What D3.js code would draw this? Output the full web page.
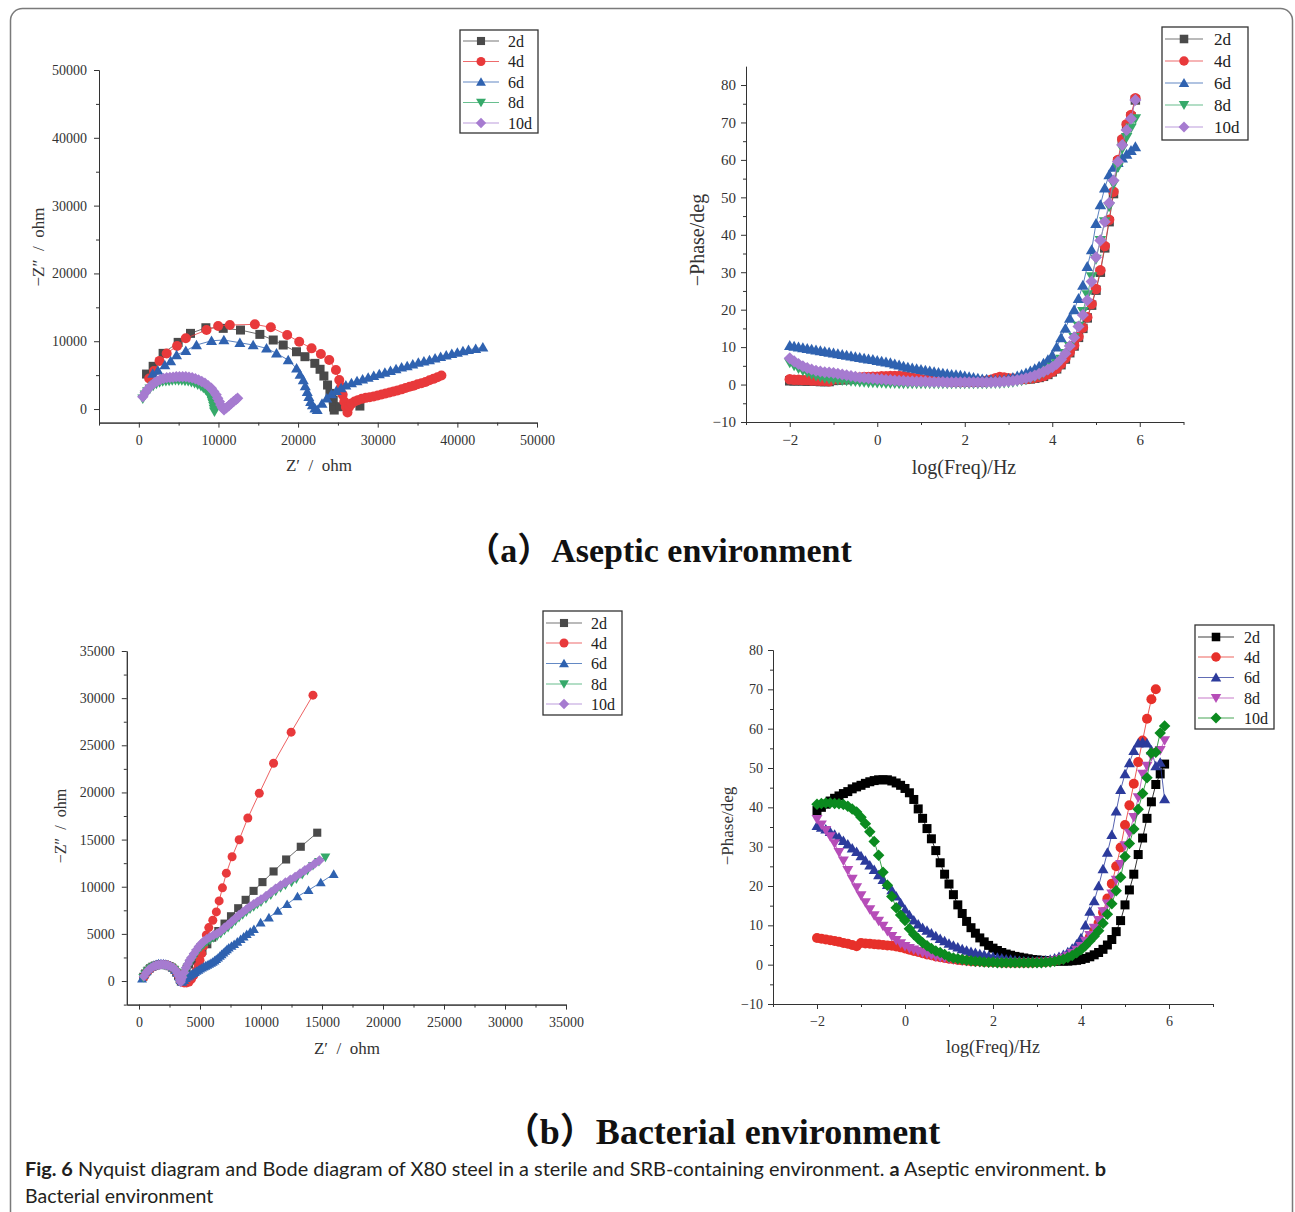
<!DOCTYPE html>
<html>
<head>
<meta charset="utf-8">
<script src="https://cdn.jsdelivr.net/npm/d3@7"></script>
<style>
  body { margin: 0; background: #fff; }
  svg { display: block; }
  .serif { font-family: "Liberation Serif", "DejaVu Serif", "Noto Sans CJK SC", serif; }
</style>
</head>
<body>
<svg id="fig" width="1295" height="1212"></svg>
<script>
// ---------- series definitions ----------
const seriesNames  = ["2d", "4d", "6d", "8d", "10d"];
const seriesShapes = ["square", "circle", "triangle", "triangleDown", "diamond"];
const aseptColors  = ["#4a4a4a", "#e8393b", "#2f62b0", "#36a96a", "#a67bd0"];
const bactColors   = ["#000000", "#e7302a", "#2c3b9c", "#b64db8", "#0b8a1f"];

// ---------- tick labels ----------
const nyqAseptTicks = [0, 10000, 20000, 30000, 40000, 50000];
const nyqBactTicks  = [0, 5000, 10000, 15000, 20000, 25000, 30000, 35000];
const bodeXTicks    = [-2, 0, 2, 4, 6];
const bodeYTicks    = [-10, 0, 10, 20, 30, 40, 50, 60, 70, 80];

// ---------- Nyquist, aseptic: [Z', -Z''] in ohm ----------
const aseptNyq2d = [[970,5160],[1800,6300],[3050,8210],[4940,9830],[6490,11160],[8420,11990],[10600,11900],[12770,11650],[15200,11010],[16880,10180],[18130,9440],[19800,8450],[20860,7720],[22100,6740],[22760,5860],[23240,4870],[23700,3540],[24000,2310],[24200,1800],[24410,1330],[24450,300],[24540,-150],[25250,340],[26090,590],[27760,440]];
const aseptNyq4d = [[1300,4500],[1900,5600],[2600,7100],[3500,8200],[4800,9300],[5900,10430],[8500,11650],[9960,12240],[11430,12390],[14570,12490],[16580,12050],[18630,10910],[20140,9930],[21690,8950],[22860,8110],[23910,7230],[24750,5750],[25170,4280],[25400,3300],[25600,2100],[25800,1100],[26000,300],[26200,-500],[26400,300],[26700,800],[27100,1100],[27500,1300],[28000,1500],[28500,1650],[29000,1750],[29500,1850],[30000,2000],[30500,2150],[31000,2300],[31500,2450],[32000,2600],[32500,2750],[33000,2900],[33500,3100],[34000,3300],[34500,3450],[35000,3650],[35500,3800],[36000,4000],[36500,4250],[37000,4450],[37500,4700],[38000,4950]];
const aseptNyq6d = [[1750,5250],[2400,5700],[3270,6490],[4000,7100],[4740,7960],[5900,8600],[7240,9440],[9130,10070],[10680,10180],[12690,9780],[14360,9440],[16040,8950],[17290,8210],[18760,7230],[19810,6000],[20250,5100],[20650,4280],[20900,3400],[21150,2550],[21350,1800],[21570,1080],[21800,600],[22110,100],[22400,-100],[23000,800],[23600,1600],[24200,2200],[24800,2700],[25400,3100],[26000,3500],[26700,3850],[27400,4150],[28100,4400],[28800,4650],[29500,4900],[30200,5150],[30900,5400],[31600,5650],[32300,5900],[33000,6150],[33700,6350],[34400,6600],[35100,6850],[35800,7050],[36500,7250],[37200,7500],[37900,7700],[38600,7950],[39300,8150],[40000,8350],[40700,8550],[41400,8750],[42300,8900],[43200,9100]];
const aseptNyq8d = [[500,1500],[800,2100],[1100,2600],[1400,3000],[1800,3400],[2200,3700],[2600,3900],[3000,4050],[3400,4100],[3800,4150],[4200,4200],[4600,4250],[5000,4200],[5400,4200],[5800,4150],[6200,4100],[6600,3950],[7000,3800],[7400,3600],[7800,3350],[8100,3100],[8400,2800],[8700,2400],[8900,2000],[9100,1600],[9200,1200],[9300,800],[9400,400],[9450,0],[9500,-400]];
const aseptNyq10d = [[500,1800],[800,2400],[1100,2900],[1500,3400],[1900,3800],[2300,4100],[2700,4350],[3100,4500],[3500,4600],[3900,4650],[4300,4700],[4700,4750],[5100,4750],[5500,4750],[5900,4750],[6300,4700],[6700,4600],[7100,4450],[7500,4300],[7900,4050],[8300,3800],[8700,3450],[9100,3050],[9400,2600],[9700,2100],[9900,1600],[10100,1100],[10300,600],[10500,200],[10700,-100],[11000,200],[11300,500],[11600,800],[11900,1100],[12200,1400],[12400,1600]];

// ---------- Bode phase: measurement frequencies, log10(f / Hz) ----------
const logFreq = [
  -2.0,-1.9,-1.8,-1.7,-1.6,-1.5,-1.4,-1.3,-1.2,-1.1,
  -1.0,-0.9,-0.8,-0.7,-0.6,-0.5,-0.4,-0.3,-0.2,-0.1,
   0.0, 0.1, 0.2, 0.3, 0.4, 0.5, 0.6, 0.7, 0.8, 0.9,
   1.0, 1.1, 1.2, 1.3, 1.4, 1.5, 1.6, 1.7, 1.8, 1.9,
   2.0, 2.1, 2.2, 2.3, 2.4, 2.5, 2.6, 2.7, 2.8, 2.9,
   3.0, 3.1, 3.2, 3.3, 3.4, 3.5, 3.6, 3.7, 3.8, 3.9,
   4.0, 4.1, 4.2, 4.3, 4.4, 4.5, 4.6, 4.7, 4.8, 4.9,
   5.0, 5.1, 5.2, 5.3, 5.4, 5.5, 5.6, 5.7, 5.8, 5.9];

// −Phase (deg), aseptic
const aseptPhase2d = [
  1.0,1.0,1.0,1.0,0.9,0.9,0.9,0.8,0.8,0.8,
  1.1,1.2,1.3,1.3,1.4,1.4,1.5,1.5,1.6,1.6,
  1.6,1.7,1.7,1.8,1.8,1.8,1.7,1.6,1.5,1.4,
  1.3,1.2,1.1,1.0,0.9,0.9,0.8,0.8,0.7,0.7,
  0.7,0.7,0.7,0.7,0.7,0.8,0.9,1.1,1.3,1.4,
  1.5,1.5,1.4,1.4,1.4,1.5,1.7,1.9,2.2,2.7,
  3.4,4.2,5.3,6.8,8.5,10.3,12.6,15.0,17.8,21.2,
  25.2,30.0,36.5,43.5,51.0,59.5,65.0,69.0,71.5,76.0];
const aseptPhase4d = [
  1.4,1.3,1.3,1.2,1.2,1.1,1.1,1.0,1.0,0.9,
  1.4,1.5,1.6,1.7,1.8,1.8,1.9,2.0,2.0,2.1,
  2.1,2.2,2.2,2.3,2.3,2.3,2.2,2.0,1.8,1.6,
  1.4,1.3,1.2,1.1,1.0,1.0,0.9,0.9,0.8,0.8,
  0.8,0.8,0.8,0.8,0.9,1.0,1.3,1.7,2.0,1.9,
  1.7,1.6,1.5,1.5,1.5,1.6,1.8,2.0,2.3,2.8,
  3.5,4.3,5.5,7.0,8.7,10.5,12.8,15.2,18.0,21.5,
  25.5,30.5,37.0,44.0,51.5,60.0,65.5,69.5,72.0,76.5];
const aseptPhase6d = [
  10.4,10.2,10.0,9.8,9.6,9.4,9.2,9.0,8.8,8.6,
  8.4,8.2,8.0,7.8,7.6,7.4,7.2,7.0,6.8,6.7,
  6.4,6.2,6.0,5.8,5.5,5.2,4.9,4.6,4.4,4.2,
  4.0,3.8,3.6,3.4,3.2,3.0,2.9,2.7,2.6,2.5,
  2.3,2.1,1.9,1.7,1.5,1.4,1.3,1.2,1.2,1.3,
  1.6,1.9,2.3,2.7,3.1,3.6,4.2,4.9,5.7,6.6,
  7.8,10.0,12.5,15.0,17.7,20.0,23.0,26.5,31.5,36.0,
  43.0,48.0,52.5,56.0,58.0,59.3,60.5,61.5,62.5,63.5];
const aseptPhase8d = [
  5.8,5.0,4.3,3.7,3.2,2.7,2.3,2.0,1.7,1.5,
  1.3,1.2,1.1,1.0,0.9,0.8,0.7,0.6,0.5,0.5,
  0.4,0.4,0.3,0.3,0.3,0.2,0.2,0.2,0.2,0.2,
  0.2,0.2,0.2,0.2,0.2,0.2,0.2,0.2,0.2,0.2,
  0.2,0.2,0.2,0.2,0.2,0.2,0.3,0.3,0.3,0.4,
  0.5,0.6,0.8,1.0,1.3,1.6,2.0,2.5,3.1,3.8,
  4.6,5.6,6.8,8.3,10.2,12.6,15.6,19.5,24.0,28.8,
  33.5,38.5,43.5,47.5,53.5,58.0,63.0,66.0,68.5,71.0];
const aseptPhase10d = [
  7.0,6.2,5.5,4.9,4.4,4.0,3.7,3.5,3.3,3.2,
  3.1,2.9,2.7,2.5,2.3,2.1,1.9,1.8,1.7,1.6,
  1.5,1.4,1.3,1.2,1.1,1.0,1.0,0.9,0.9,0.8,
  0.8,0.8,0.7,0.7,0.7,0.7,0.6,0.6,0.6,0.6,
  0.6,0.6,0.6,0.6,0.6,0.6,0.6,0.7,0.7,0.8,
  0.9,1.0,1.2,1.4,1.7,2.0,2.4,2.9,3.4,4.0,
  4.6,5.5,6.7,8.3,10.3,12.6,15.5,18.6,22.5,27.5,
  34.0,38.5,43.5,48.5,54.5,59.5,64.0,68.0,71.0,76.0];

// ---------- Nyquist, bacterial: [Z', -Z''] in ohm ----------
const bactNyq2d = [[350,450],[500,800],[700,1100],[900,1350],[1100,1520],[1300,1640],[1500,1710],[1700,1750],[1900,1760],[2100,1740],[2300,1680],[2500,1580],[2700,1430],[2900,1200],[3050,900],[3200,550],[3330,200],[3430,-50],[3550,350],[3700,800],[3900,1300],[4100,1750],[4350,2150],[4600,2550],[4900,2900],[5200,3200],[5600,3900],[6000,4600],[6500,5300],[7010,6090],[7540,6870],[8130,7720],[8740,8610],[9390,9560],[10120,10490],[11030,11620],[12060,12890],[13260,14240],[14610,15730]];
const bactNyq4d = [[400,400],[550,750],[750,1080],[950,1330],[1150,1500],[1350,1620],[1550,1700],[1750,1740],[1950,1750],[2150,1720],[2350,1660],[2550,1560],[2750,1410],[2950,1180],[3100,880],[3250,540],[3380,200],[3500,-100],[3700,-200],[3900,-200],[4100,-100],[4300,200],[4500,600],[4700,1100],[4850,1600],[5000,2200],[5150,2900],[5300,3700],[5520,4890],[5720,5670],[6050,6450],[6340,7330],[6570,8500],[6840,9880],[7160,11440],[7630,13180],[8210,14980],[8920,17290],[9860,19910],[11030,23100],[12470,26390],[14260,30320]];
const bactNyq6d = [[250,250],[400,650],[600,1000],[800,1300],[1000,1520],[1200,1680],[1400,1790],[1600,1850],[1800,1870],[2000,1860],[2200,1820],[2400,1730],[2600,1600],[2800,1420],[3000,1150],[3150,850],[3300,450],[3420,100],[3550,-100],[3700,100],[3840,300],[4000,450],[4140,580],[4280,710],[4430,830],[4580,950],[4720,1060],[4870,1180],[5010,1300],[5160,1420],[5300,1520],[5450,1610],[5600,1700],[5750,1810],[5900,1910],[6040,2020],[6190,2170],[6330,2320],[6480,2480],[6630,2660],[6770,2830],[6920,3010],[7070,3190],[7210,3360],[7360,3540],[7580,3720],[7800,3900],[8060,4160],[8330,4430],[8580,4700],[8830,4960],[9120,5220],[9420,5490],[9970,6200],[10650,6730],[11380,7440],[12140,8150],[12990,8960],[13900,9640],[14900,10450],[15960,11340]];
const bactNyq8d = [[350,350],[500,700],[700,1020],[900,1280],[1100,1450],[1300,1570],[1500,1640],[1700,1680],[1900,1690],[2100,1670],[2300,1610],[2500,1520],[2700,1380],[2900,1170],[3050,900],[3200,580],[3330,250],[3430,0],[3550,200],[3700,600],[3850,1050],[4000,1450],[4150,1800],[4300,2150],[4500,2550],[4700,2950],[4900,3300],[5100,3600],[5300,3850],[5550,4100],[5800,4300],[6100,4550],[6400,4750],[6700,5000],[7000,5350],[7300,5650],[7600,6000],[7900,6350],[8200,6700],[8500,7000],[8800,7300],[9100,7600],[9400,7850],[9700,8100],[10000,8350],[10400,8700],[10800,9100],[11200,9500],[11600,9850],[12000,10150],[12500,10450],[12900,10800],[13380,11260],[13800,11700],[14260,12220],[14750,12650],[15280,13110]];
const bactNyq10d = [[400,500],[600,900],[800,1200],[1000,1400],[1200,1550],[1400,1650],[1600,1700],[1800,1750],[2000,1750],[2200,1700],[2400,1650],[2600,1550],[2800,1400],[3000,1150],[3150,850],[3250,550],[3350,200],[3420,-100],[3450,100],[3550,400],[3700,900],[3850,1400],[4000,1800],[4150,2200],[4300,2500],[4500,2900],[4700,3300],[4900,3650],[5100,3950],[5300,4200],[5550,4450],[5800,4650],[6100,4850],[6400,5050],[6700,5300],[7000,5650],[7300,5950],[7600,6300],[7900,6650],[8200,7000],[8500,7300],[8800,7600],[9100,7900],[9400,8150],[9700,8400],[10000,8650],[10400,9000],[10800,9400],[11200,9800],[11600,10150],[12000,10450],[12400,10750],[12800,11050],[13200,11400],[13600,11750],[14000,12100],[14400,12450],[14800,12800]];

// −Phase (deg), bacterial
const bactPhase2d = [
  39.2,40.0,40.8,41.6,42.3,42.9,43.5,44.0,44.7,45.2,
  45.6,46.1,46.5,46.8,47.0,47.0,47.0,46.7,46.2,45.6,
  44.8,43.7,42.0,39.6,37.2,34.6,32.0,29.0,25.9,23.0,
  20.5,17.8,15.2,13.0,11.0,9.4,8.0,6.8,5.8,4.9,
  4.2,3.6,3.1,2.7,2.4,2.1,1.9,1.7,1.5,1.3,
  1.2,1.1,1.0,1.0,0.9,0.9,0.9,0.9,1.0,1.1,
  1.3,1.6,2.0,2.5,3.1,3.9,5.0,6.4,8.4,11.2,
  15.2,19.0,23.0,28.0,32.2,37.2,41.4,45.8,48.5,51.0];
const bactPhase4d = [
  6.8,6.6,6.4,6.2,6.0,5.8,5.5,5.3,5.0,4.7,
  5.5,5.4,5.3,5.2,5.1,5.0,4.9,4.8,4.6,4.4,
  4.1,3.8,3.5,3.2,2.9,2.6,2.4,2.1,1.9,1.7,
  1.5,1.4,1.2,1.1,1.0,0.9,0.8,0.8,0.7,0.7,
  0.6,0.6,0.5,0.5,0.5,0.5,0.5,0.5,0.5,0.5,
  0.6,0.6,0.7,0.8,1.0,1.3,1.7,2.2,2.8,3.5,
  4.4,5.6,7.0,8.6,10.6,13.3,16.8,20.6,25.0,29.8,
  35.5,40.5,46.0,51.5,57.0,62.5,67.5,70.0,null,null];
const bactPhase6d = [
  35.3,34.9,34.4,33.8,33.1,32.4,31.5,30.6,29.6,28.7,
  27.6,26.5,25.3,24.1,22.8,21.6,20.3,19.0,17.4,15.7,
  14.0,12.6,11.3,10.3,9.4,8.7,8.0,7.3,6.6,6.0,
  5.4,4.9,4.4,4.0,3.6,3.3,3.0,2.7,2.5,2.2,
  2.0,1.8,1.6,1.4,1.3,1.1,1.0,0.9,0.9,0.9,
  0.9,1.0,1.1,1.3,1.6,2.0,2.5,3.2,4.1,5.2,
  6.8,10.0,13.5,16.2,20.0,24.3,28.5,33.0,39.0,44.5,
  48.5,51.3,54.4,56.3,56.6,56.3,54.5,50.5,51.4,42.1];
const bactPhase8d = [
  37.0,35.6,34.2,32.6,30.8,28.6,26.4,24.0,21.8,19.6,
  17.6,15.8,14.0,12.5,11.1,9.8,8.5,7.2,6.2,5.4,
  4.7,4.2,3.8,3.4,3.0,2.7,2.4,2.1,1.9,1.7,
  1.5,1.3,1.2,1.0,0.9,0.8,0.7,0.6,0.6,0.5,
  0.5,0.5,0.4,0.4,0.4,0.4,0.4,0.4,0.4,0.4,
  0.5,0.5,0.6,0.8,1.0,1.3,1.7,2.2,2.9,3.7,
  4.7,6.0,7.5,9.3,11.3,13.5,15.5,18.0,21.5,25.5,
  30.3,33.5,37.5,42.5,48.5,50.5,53.0,54.0,54.5,57.0];
const bactPhase10d = [
  40.8,41.0,41.1,41.1,41.0,40.9,40.7,40.3,39.6,38.8,
  37.5,35.8,33.8,31.3,27.8,23.5,20.2,17.3,14.5,12.6,
  11.2,9.1,7.7,6.6,5.6,4.8,4.1,3.5,3.1,2.6,
  2.0,1.7,1.5,1.3,1.1,1.0,0.9,0.8,0.7,0.6,
  0.6,0.5,0.5,0.5,0.5,0.5,0.5,0.5,0.5,0.5,
  0.5,0.5,0.6,0.7,0.9,1.1,1.4,1.8,2.3,3.0,
  3.8,4.8,6.0,7.2,8.6,10.5,12.8,15.5,18.8,22.2,
  27.5,30.8,34.5,39.5,43.5,47.5,53.8,54.0,58.9,60.7];

// ---------- drawing helpers ----------
const svg = d3.select("#fig");
svg.append("rect").attr("width", 1295).attr("height", 1212).attr("fill", "#fff");
svg.append("rect")
  .attr("x", 10.5).attr("y", 8.5).attr("width", 1282).attr("height", 1240).attr("rx", 12)
  .attr("fill", "none").attr("stroke", "#7a7a7a").attr("stroke-width", 1.5);

function markerPath(shape, s) {
  const h = s / 2;
  switch (shape) {
    case "square":       return `M${-h*0.9},${-h*0.9}H${h*0.9}V${h*0.9}H${-h*0.9}Z`;
    case "circle":       return `M${h},0A${h},${h} 0 1,1 ${-h},0A${h},${h} 0 1,1 ${h},0Z`;
    case "triangle":     return `M0,${-h*1.05}L${h*1.1},${h*0.85}L${-h*1.1},${h*0.85}Z`;
    case "triangleDown": return `M0,${h*1.05}L${h*1.1},${-h*0.85}L${-h*1.1},${-h*0.85}Z`;
    case "diamond":      return `M0,${-h*1.15}L${h*1.15},0L0,${h*1.15}L${-h*1.15},0Z`;
  }
}

const bodeFmt = d => d < 0 ? "\u2212" + Math.abs(d) : String(d);
const nyqFmt = d3.format("d");

function drawPanel(cfg) {
  const g = svg.append("g");
  const x = d3.scaleLinear().domain(cfg.xDomain).range(cfg.xRange);
  const y = d3.scaleLinear().domain(cfg.yDomain).range(cfg.yRange);
  const axisY = cfg.yRange[0], axisX = cfg.xRange[0];

  const styleAxis = sel => {
    sel.selectAll("path, line").attr("stroke", "#333").attr("stroke-width", 1);
    sel.selectAll("text").attr("class", "serif").attr("fill", "#333")
      .attr("font-size", cfg.tickFont);
  };

  g.append("g").attr("transform", `translate(0,${axisY})`)
    .call(d3.axisBottom(x).tickValues(cfg.xMinor).tickSize(3).tickSizeOuter(0).tickFormat(""))
    .call(styleAxis);
  g.append("g").attr("transform", `translate(0,${axisY})`)
    .call(d3.axisBottom(x).tickValues(cfg.xTicks).tickSize(5).tickSizeOuter(0)
      .tickPadding(cfg.xPad).tickFormat(cfg.fmt))
    .call(styleAxis);
  g.append("g").attr("transform", `translate(${axisX},0)`)
    .call(d3.axisLeft(y).tickValues(cfg.yMinor).tickSize(3).tickSizeOuter(0).tickFormat(""))
    .call(styleAxis);
  g.append("g").attr("transform", `translate(${axisX},0)`)
    .call(d3.axisLeft(y).tickValues(cfg.yTicks).tickSize(5).tickSizeOuter(0)
      .tickPadding(cfg.yPad).tickFormat(cfg.fmt))
    .call(styleAxis);

  // axis titles
  g.append("text").attr("class", "serif")
    .attr("x", cfg.xTitle.x).attr("y", cfg.xTitle.y)
    .attr("text-anchor", "middle").attr("font-size", cfg.xTitle.size).attr("fill", "#333")
    .attr("xml:space", "preserve")
    .text(cfg.xTitle.text);
  g.append("text").attr("class", "serif")
    .attr("transform", `translate(${cfg.yTitle.x},${cfg.yTitle.y}) rotate(-90)`)
    .attr("text-anchor", "middle").attr("dominant-baseline", "central")
    .attr("font-size", cfg.yTitle.size).attr("fill", "#333")
    .attr("xml:space", "preserve")
    .text(cfg.yTitle.text);

  // series: thin connecting line + markers
  const line = d3.line().defined(d => d[1] != null).x(d => x(d[0])).y(d => y(d[1]));
  cfg.series.forEach((pts, i) => {
    const col = cfg.colors[i];
    g.append("path").datum(pts).attr("d", line)
      .attr("fill", "none").attr("stroke", col).attr("stroke-width", 1).attr("stroke-opacity", 0.8);
    g.append("g").selectAll("path").data(pts.filter(d => d[1] != null)).join("path")
      .attr("transform", d => `translate(${x(d[0])},${y(d[1])})`)
      .attr("d", markerPath(seriesShapes[i], cfg.markSize))
      .attr("fill", col);
  });

  // legend
  const L = cfg.legend;
  const lg = g.append("g");
  lg.append("rect").attr("x", L.x).attr("y", L.y).attr("width", L.w).attr("height", L.h)
    .attr("fill", "#fff").attr("stroke", "#333").attr("stroke-width", 1.3);
  seriesNames.forEach((name, i) => {
    const ry = L.rows[i], col = cfg.colors[i];
    lg.append("line").attr("x1", L.lx0).attr("x2", L.lx1).attr("y1", ry).attr("y2", ry)
      .attr("stroke", col).attr("stroke-width", 1.2).attr("stroke-opacity", 0.75);
    lg.append("path").attr("transform", `translate(${(L.lx0 + L.lx1) / 2},${ry})`)
      .attr("d", markerPath(seriesShapes[i], L.mark)).attr("fill", col);
    lg.append("text").attr("class", "serif").attr("x", L.tx).attr("y", ry)
      .attr("dominant-baseline", "central").attr("font-size", L.font).attr("fill", "#222")
      .text(name);
  });
}

const stepTicks = (a, b, s) => d3.range(a, b + s / 2, s);

// (a) aseptic — Nyquist
drawPanel({
  xDomain: [-5000, 50000], xRange: [99, 537],
  yDomain: [-2000, 50000], yRange: [422.6, 70],
  xTicks: nyqAseptTicks, yTicks: nyqAseptTicks,
  xMinor: stepTicks(-5000, 45000, 10000), yMinor: stepTicks(5000, 45000, 10000),
  fmt: nyqFmt, tickFont: 14, xPad: 7, yPad: 7,
  xTitle: { text: "Z\u2032  /  ohm", x: 319, y: 471, size: 17 },
  yTitle: { text: "\u2212Z\u2033  /  ohm", x: 38, y: 247, size: 17 },
  series: [aseptNyq2d, aseptNyq4d, aseptNyq6d, aseptNyq8d, aseptNyq10d],
  colors: aseptColors, markSize: 10,
  legend: { x: 460, y: 30, w: 78, h: 103, rows: [41, 61.5, 82, 102.5, 123],
            lx0: 463, lx1: 499, tx: 508, font: 16, mark: 9 }
});

// (a) aseptic — Bode phase
drawPanel({
  xDomain: [-3, 7], xRange: [746, 1183.5],
  yDomain: [-10, 85], yRange: [422, 66.3],
  xTicks: bodeXTicks, yTicks: bodeYTicks,
  xMinor: [-3, -1, 1, 3, 5, 7], yMinor: stepTicks(-5, 75, 10),
  fmt: bodeFmt, tickFont: 15, xPad: 7, yPad: 5,
  xTitle: { text: "log(Freq)/Hz", x: 964, y: 474, size: 20 },
  yTitle: { text: "\u2212Phase/deg", x: 697, y: 240, size: 20 },
  series: [aseptPhase2d, aseptPhase4d, aseptPhase6d, aseptPhase8d, aseptPhase10d]
    .map(v => logFreq.map((f, i) => [f, v[i]])),
  colors: aseptColors, markSize: 10.5,
  legend: { x: 1162, y: 27, w: 86, h: 113, rows: [39, 61, 83, 105, 127],
            lx0: 1165, lx1: 1203, tx: 1214, font: 17, mark: 9.5 }
});

// (b) bacterial — Nyquist
drawPanel({
  xDomain: [-1000, 35000], xRange: [126.8, 566],
  yDomain: [-2500, 35000], yRange: [1004.6, 651],
  xTicks: nyqBactTicks, yTicks: nyqBactTicks,
  xMinor: stepTicks(2500, 32500, 5000), yMinor: stepTicks(-2500, 32500, 5000),
  fmt: nyqFmt, tickFont: 14, xPad: 7, yPad: 7,
  xTitle: { text: "Z\u2032  /  ohm", x: 347, y: 1054, size: 17 },
  yTitle: { text: "\u2212Z\u2033  /  ohm", x: 60, y: 826, size: 16 },
  series: [bactNyq2d, bactNyq4d, bactNyq6d, bactNyq8d, bactNyq10d],
  colors: aseptColors, markSize: 9,
  legend: { x: 543, y: 611, w: 79, h: 104, rows: [623, 643, 663.5, 684, 704],
            lx0: 546, lx1: 582, tx: 591, font: 16, mark: 9 }
});

// (b) bacterial — Bode phase
drawPanel({
  xDomain: [-3, 7], xRange: [773, 1213],
  yDomain: [-10, 80], yRange: [1004, 650],
  xTicks: bodeXTicks, yTicks: bodeYTicks,
  xMinor: [-3, -1, 1, 3, 5, 7], yMinor: stepTicks(-5, 75, 10),
  fmt: bodeFmt, tickFont: 14, xPad: 7, yPad: 5,
  xTitle: { text: "log(Freq)/Hz", x: 993, y: 1053, size: 18 },
  yTitle: { text: "\u2212Phase/deg", x: 727, y: 826, size: 17 },
  series: [bactPhase2d, bactPhase4d, bactPhase6d, bactPhase8d, bactPhase10d]
    .map(v => logFreq.map((f, i) => [f, v[i]])),
  colors: bactColors, markSize: 10,
  legend: { x: 1195, y: 625, w: 79, h: 104, rows: [637, 657, 677.5, 698, 718],
            lx0: 1198, lx1: 1234, tx: 1244, font: 16, mark: 9.5 }
});

// ---------- sub-figure titles ----------
svg.append("text").attr("class", "serif")
  .attr("x", 659).attr("y", 562).attr("text-anchor", "middle")
  .attr("font-size", 34).attr("font-weight", "bold").attr("fill", "#111")
  .text("\uFF08a\uFF09Aseptic environment");
svg.append("text").attr("class", "serif")
  .attr("x", 722).attr("y", 1144).attr("text-anchor", "middle")
  .attr("font-size", 36).attr("font-weight", "bold").attr("fill", "#111")
  .text("\uFF08b\uFF09Bacterial environment");

// ---------- caption ----------
const capFont = "Lato, 'Open Sans', 'Noto Sans', sans-serif";
const cap1 = svg.append("text")
  .attr("x", 25).attr("y", 1176)
  .attr("font-family", capFont).attr("font-size", 19.9).attr("fill", "#231f20");
cap1.append("tspan").attr("font-weight", "bold").text("Fig. 6");
cap1.append("tspan").text(" Nyquist diagram and Bode diagram of X80 steel in a sterile and SRB-containing environment. ");
cap1.append("tspan").attr("font-weight", "bold").text("a");
cap1.append("tspan").text(" Aseptic environment. ");
cap1.append("tspan").attr("font-weight", "bold").text("b");
svg.append("text")
  .attr("x", 25).attr("y", 1203)
  .attr("font-family", capFont).attr("font-size", 19.5).attr("fill", "#231f20")
  .text("Bacterial environment");
</script>
</body>
</html>
